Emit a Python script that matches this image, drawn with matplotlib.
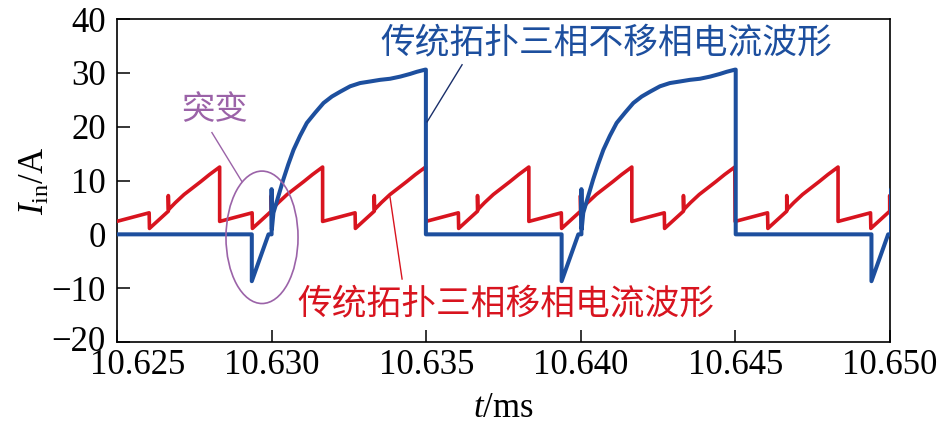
import numpy as np
import matplotlib
matplotlib.use("Agg")
from matplotlib import pyplot as plt
from matplotlib.patches import Ellipse
from matplotlib.ticker import FormatStrFormatter
from matplotlib.transforms import ScaledTranslation

plt.rcParams['font.family'] = ['Liberation Serif', 'DejaVu Serif']
plt.rcParams['mathtext.fontset'] = 'custom'
plt.rcParams['mathtext.rm'] = 'Liberation Serif'
plt.rcParams['mathtext.it'] = 'Liberation Serif:italic'

# red: phase-shifted input current, one period
red_drop_t = [10.62499, 10.62832, 10.63165, 10.63499, 10.63832, 10.64165, 10.64499, 10.64832]
red_dt = [0.0, 0.00105, 0.00106, 0.00167, 0.00167, 0.00168, 0.00190, 0.00218, 0.00245, 0.00272, 0.00300, 0.00333]
red_i = [2.4, 4.0, 1.1, 4.3, 7.2, 4.6, 5.9, 7.4, 8.6, 9.8, 11.1, 12.5]

# blue: no phase shift, one period
blue_start = (10.625, 0.0)
blue_drop_t = [10.62936, 10.63938, 10.64940]
blue_dt = [0.0, 0.0, 0.00054, 0.00064, 0.00064, 0.00065, 0.00070, 0.00086, 0.00102, 0.00118,
           0.00135, 0.00156, 0.00178, 0.00205, 0.00232, 0.00259, 0.00286, 0.00318, 0.00350,
           0.00383, 0.00415, 0.00447, 0.00480, 0.00512, 0.00534, 0.00561, 0.00563, 0.00563]
blue_i = [0.0, -8.7, 0.0, 0.0, 8.4, 1.0, 4.0, 7.1, 10.2, 13.0,
          15.7, 18.3, 20.7, 22.6, 24.4, 25.6, 26.5, 27.5, 28.1,
          28.4, 28.7, 28.9, 29.3, 29.8, 30.2, 30.6, 30.6, 0.0]

x_ticks = [10.625, 10.630, 10.635, 10.640, 10.645, 10.650]
y_ticks = [-20, -10, 0, 10, 20, 30, 40]

BLUE = '#1d4f9e'
RED = '#d8141f'
PURPLE = '#9b63a8'

red_t = np.concatenate([t0 + np.array(red_dt) for t0 in red_drop_t])
red_v = np.tile(red_i, len(red_drop_t))
blue_t = np.concatenate([[blue_start[0]]] + [t0 + np.array(blue_dt) for t0 in blue_drop_t])
blue_v = np.concatenate([[blue_start[1]]] + [blue_i for _ in blue_drop_t])

fig = plt.figure(figsize=(9.45, 4.32), dpi=100)
ax = fig.add_axes([0.1238, 0.2083, 0.818, 0.7477])

ax.plot(red_t, red_v, color=RED, lw=2.6, zorder=3)
ax.plot(blue_t, blue_v, color=BLUE, lw=2.9, zorder=4)

ax.set_xlim(10.625, 10.650)
ax.set_ylim(-20, 40)
ax.set_xticks(x_ticks)
ax.set_yticks(y_ticks)
ax.xaxis.set_major_formatter(FormatStrFormatter('%.3f'))
ax.tick_params(direction='in', length=9, width=1.1, labelsize=25, top=False, right=False)
ax.tick_params(axis='x', pad=5)
ax.tick_params(axis='y', pad=8)
for s in ax.spines.values():
    s.set_linewidth(1.2)

ax.set_xlabel('$t$/ms', fontsize=25, labelpad=7)
ax.set_ylabel('$I_{\\mathrm{in}}$/A', fontsize=25, labelpad=0)

# nudge the crowded corner labels apart like the original
lab0 = ax.get_xticklabels()[0]
lab0.set_transform(lab0.get_transform() + ScaledTranslation(0.21, 0, fig.dpi_scale_trans))
ylab0 = ax.get_yticklabels()[0]
ylab0.set_transform(ylab0.get_transform() + ScaledTranslation(0, 0.04, fig.dpi_scale_trans))

cjk = ['Noto Sans CJK SC', 'DejaVu Sans']
ax.text(10.64081, 35.6, '传统拓扑三相不移相电流波形', color=BLUE, fontsize=25,
        family=cjk, ha='center', va='center')
ax.text(10.63758, -13.0, '传统拓扑三相移相电流波形', color=RED, fontsize=25,
        family=cjk, ha='center', va='center')
ax.text(10.62817, 23.1, '突变', color=PURPLE, fontsize=24,
        family=cjk, ha='center', va='center')

ax.plot([10.63616, 10.63503], [31.5, 20.9], color='#1a2f6a', lw=1.0, zorder=5)
ax.plot([10.63422, 10.63383], [-8.3, 6.9], color=RED, lw=1.0, zorder=5)
ax.plot([10.62807, 10.62904], [18.9, 9.8], color=PURPLE, lw=1.0, zorder=5)
ax.add_patch(Ellipse((10.62969, -0.55), 0.00233, 24.6, fill=False,
                     edgecolor=PURPLE, lw=1.2, zorder=5))

fig.savefig('out.png', dpi=100)
